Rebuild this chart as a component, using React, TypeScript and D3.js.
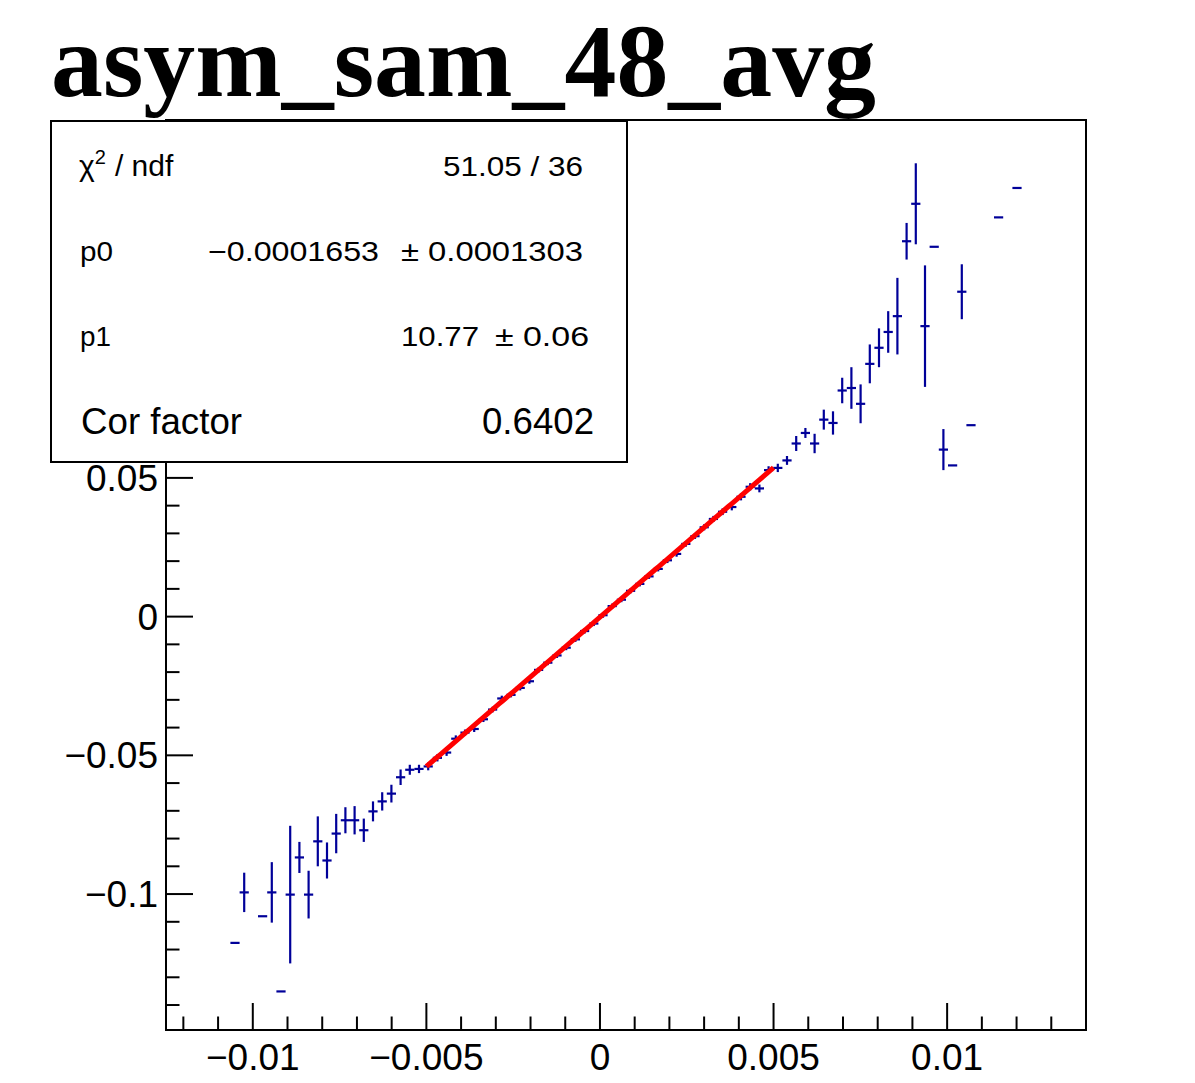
import React from "react";
import * as d3 from "d3";

// Histogram definition (profile histogram)
const histMin = -0.0125;
const histMax = 0.014;
const nBins = 100;

// Filled bins: index, mean, error
const binIndex = [7, 8, 10, 11, 12, 13, 14, 15, 16, 17, 18, 19, 20, 21, 22, 23, 24, 25, 26, 27,
  28, 29, 30, 31, 32, 33, 34, 35, 36, 37, 38, 39, 40, 41, 42, 43, 44, 45, 46, 47,
  48, 49, 50, 51, 52, 53, 54, 55, 56, 57, 58, 59, 60, 61, 62, 63, 64, 65, 66, 67,
  68, 69, 70, 71, 72, 73, 74, 75, 76, 77, 78, 79, 80, 81, 82, 83, 84, 85, 86, 87, 90, 92];
const binMean = [-0.1176, -0.0994, -0.108, -0.0994, -0.1351, -0.1002, -0.0868, -0.1002, -0.081, -0.0879,
  -0.0782, -0.0734, -0.0734, -0.077, -0.0702, -0.0666, -0.0638, -0.0579, -0.0552, -0.0549,
  -0.054, -0.0509, -0.049, -0.044, -0.0418, -0.0405, -0.037, -0.0335, -0.0295, -0.0282,
  -0.0257, -0.0233, -0.0192, -0.0166, -0.014, -0.0112, -0.0082, -0.0052, -0.0025, 0.0005,
  0.0038, 0.0061, 0.0093, 0.0118, 0.0145, 0.0172, 0.0203, 0.0226, 0.0262, 0.029,
  0.0322, 0.0352, 0.0378, 0.0395, 0.0432, 0.0468, 0.0462, 0.0528, 0.0536, 0.0563,
  0.0624, 0.0662, 0.0624, 0.071, 0.0698, 0.0815, 0.0824, 0.0767, 0.0911, 0.0969,
  0.1026, 0.1083, 0.1353, 0.1488, 0.1047, 0.1333, 0.0602, 0.0545, 0.1171, 0.069, 0.1439, 0.1545];
const binError = [0, 0.0071, 0, 0.0109, 0, 0.0248, 0.0056, 0.0086, 0.009, 0.0065,
  0.0071, 0.0047, 0.0051, 0.0042, 0.0036, 0.0033, 0.0032, 0.0028, 0.0018, 0.0015,
  0.0014, 0.0013, 0.0012, 0.0012, 0.0011, 0.0011, 0.001, 0.001, 0.001, 0.0009,
  0.0009, 0.0009, 0.0009, 0.0009, 0.0009, 0.0009, 0.0009, 0.0009, 0.0009, 0.0009,
  0.0009, 0.0009, 0.0009, 0.0009, 0.0009, 0.0009, 0.001, 0.001, 0.001, 0.001,
  0.0011, 0.0011, 0.0012, 0.0012, 0.0013, 0.0013, 0.0014, 0.0014, 0.0015, 0.0016,
  0.0027, 0.0018, 0.0035, 0.0036, 0.0042, 0.0046, 0.0075, 0.007, 0.007, 0.007,
  0.0075, 0.0138, 0.0066, 0.0146, 0.0219, 0, 0.0074, 0, 0.0099, 0, 0, 0];

// Fit
const fitP0 = -0.0001653;
const fitP1 = 10.77;
const fitRange = [-0.005, 0.005];

// Axes
const yDomain = [-0.149, 0.179];
const xTickValues = [-0.01, -0.005, 0, 0.005, 0.01];
const xTickLabels = ["\u22120.01", "\u22120.005", "0", "0.005", "0.01"];
const yTickValues = [-0.1, -0.05, 0, 0.05];
const yTickLabels = ["\u22120.1", "\u22120.05", "0", "0.05"];
const xMinorStep = 0.001;
const yMinorStep = 0.01;

const title = "asym_sam_48_avg";
const chi2Text = "51.05 / 36";
const statNames = ["p0", "p1"];
const statValues = ["\u22120.0001653", "10.77"];
const statErrors = ["\u00b1 0.0001303", "\u00b1 0.06"];
const corName = "Cor factor";
const corValue = "0.6402";

const W = 1195;
const H = 1083;
const frame = { left: 166, right: 1086, top: 120, bottom: 1030 };

export default function App() {
  const x = d3.scaleLinear().domain([histMin, histMax]).range([frame.left, frame.right]);
  const y = d3.scaleLinear().domain(yDomain).range([frame.bottom, frame.top]);
  const bw = (histMax - histMin) / nBins;

  const xMinor = d3.range(Math.ceil(histMin / xMinorStep), Math.floor(histMax / xMinorStep) + 1).map((i) => i * xMinorStep);
  const yMinor = d3.range(Math.ceil(yDomain[0] / yMinorStep), Math.floor(yDomain[1] / yMinorStep) + 1).map((i) => i * yMinorStep);
  const isMajor = (v: number, step: number) => Math.abs(v / step - Math.round(v / step)) < 1e-6;

  const fitLine = d3.line<number>().x((v) => x(v)).y((v) => y(fitP0 + fitP1 * v));
  const fitXs = d3.range(0, 101).map((i) => fitRange[0] + (i / 100) * (fitRange[1] - fitRange[0]));

  const blue = "#000099";
  const font = "'Liberation Sans', Arial, Helvetica, sans-serif";
  const box = { left: 51, right: 627, top: 121, bottom: 462 };
  const rowY = [176, 261, 346];

  return (
    <svg width={W} height={H} style={{ position: "absolute", left: 0, top: 0, background: "#fff" }}>
      <rect x={0} y={0} width={W} height={H} fill="#fff" />
      {/* frame */}
      <rect x={frame.left} y={frame.top} width={frame.right - frame.left} height={frame.bottom - frame.top}
        fill="none" stroke="#000" strokeWidth={2} />
      {/* x ticks */}
      {xMinor.map((v, i) => {
        const len = isMajor(v, 0.005) ? 27 : 13.5;
        return <line key={"xt" + i} x1={x(v)} x2={x(v)} y1={frame.bottom} y2={frame.bottom - len} stroke="#000" strokeWidth={2} />;
      })}
      {/* y ticks */}
      {yMinor.map((v, i) => {
        const len = isMajor(v, 0.05) ? 27 : 13.5;
        return <line key={"yt" + i} x1={frame.left} x2={frame.left + len} y1={y(v)} y2={y(v)} stroke="#000" strokeWidth={2} />;
      })}
      {xTickValues.map((v, i) => (
        <text key={"xl" + i} x={x(v)} y={1070} textAnchor="middle" fontFamily={font} fontSize={37}>{xTickLabels[i]}</text>
      ))}
      {yTickValues.map((v, i) => (
        <text key={"yl" + i} x={158} y={y(v) + 13} textAnchor="end" fontFamily={font} fontSize={37}>{yTickLabels[i]}</text>
      ))}
      {/* data points */}
      {binIndex.map((k, i) => {
        const lo = histMin + k * bw;
        const c = lo + bw / 2;
        const m = binMean[i];
        const e = binError[i];
        return (
          <g key={"p" + i} stroke={blue} strokeWidth={2.2}>
            <line x1={x(lo)} x2={x(lo + bw)} y1={y(m)} y2={y(m)} />
            {e > 0 && <line x1={x(c)} x2={x(c)} y1={y(m - e)} y2={y(m + e)} />}
          </g>
        );
      })}
      {/* fit */}
      <path d={fitLine(fitXs) || ""} fill="none" stroke="#ff0000" strokeWidth={5} />
      {/* stats box */}
      <rect x={box.left} y={box.top} width={box.right - box.left} height={box.bottom - box.top} fill="#fff" stroke="#000" strokeWidth={2} />
      <g fontFamily={font} fontSize={28} fill="#000">
        <text x={79} y={rowY[0]} fontSize={30}>
          {"\u03c7"}
          <tspan dy={-12} fontSize={20}>2</tspan>
          <tspan dy={12} dx={9}>{"/ ndf"}</tspan>
        </text>
        <text x={443} y={rowY[0]} textLength={140} lengthAdjust="spacingAndGlyphs">{chi2Text}</text>
        <text x={80} y={rowY[1]} textLength={33} lengthAdjust="spacingAndGlyphs">{statNames[0]}</text>
        <text x={208} y={rowY[1]} textLength={171} lengthAdjust="spacingAndGlyphs">{statValues[0]}</text>
        <text x={401} y={rowY[1]} textLength={182} lengthAdjust="spacingAndGlyphs">{statErrors[0]}</text>
        <text x={80} y={rowY[2]} textLength={31} lengthAdjust="spacingAndGlyphs">{statNames[1]}</text>
        <text x={401} y={rowY[2]} textLength={78} lengthAdjust="spacingAndGlyphs">{statValues[1]}</text>
        <text x={495} y={rowY[2]} textLength={94} lengthAdjust="spacingAndGlyphs">{statErrors[1]}</text>
        <text x={81} y={434} fontSize={37} textLength={161} lengthAdjust="spacingAndGlyphs">{corName}</text>
        <text x={482} y={434} fontSize={37} textLength={112} lengthAdjust="spacingAndGlyphs">{corValue}</text>
      </g>
      {/* title */}
      <text x={51} y={96} fontFamily="'Liberation Serif', 'Times New Roman', serif" fontWeight="bold" fontSize={104}
        textLength={825} lengthAdjust="spacingAndGlyphs">{title}</text>
    </svg>
  );
}
